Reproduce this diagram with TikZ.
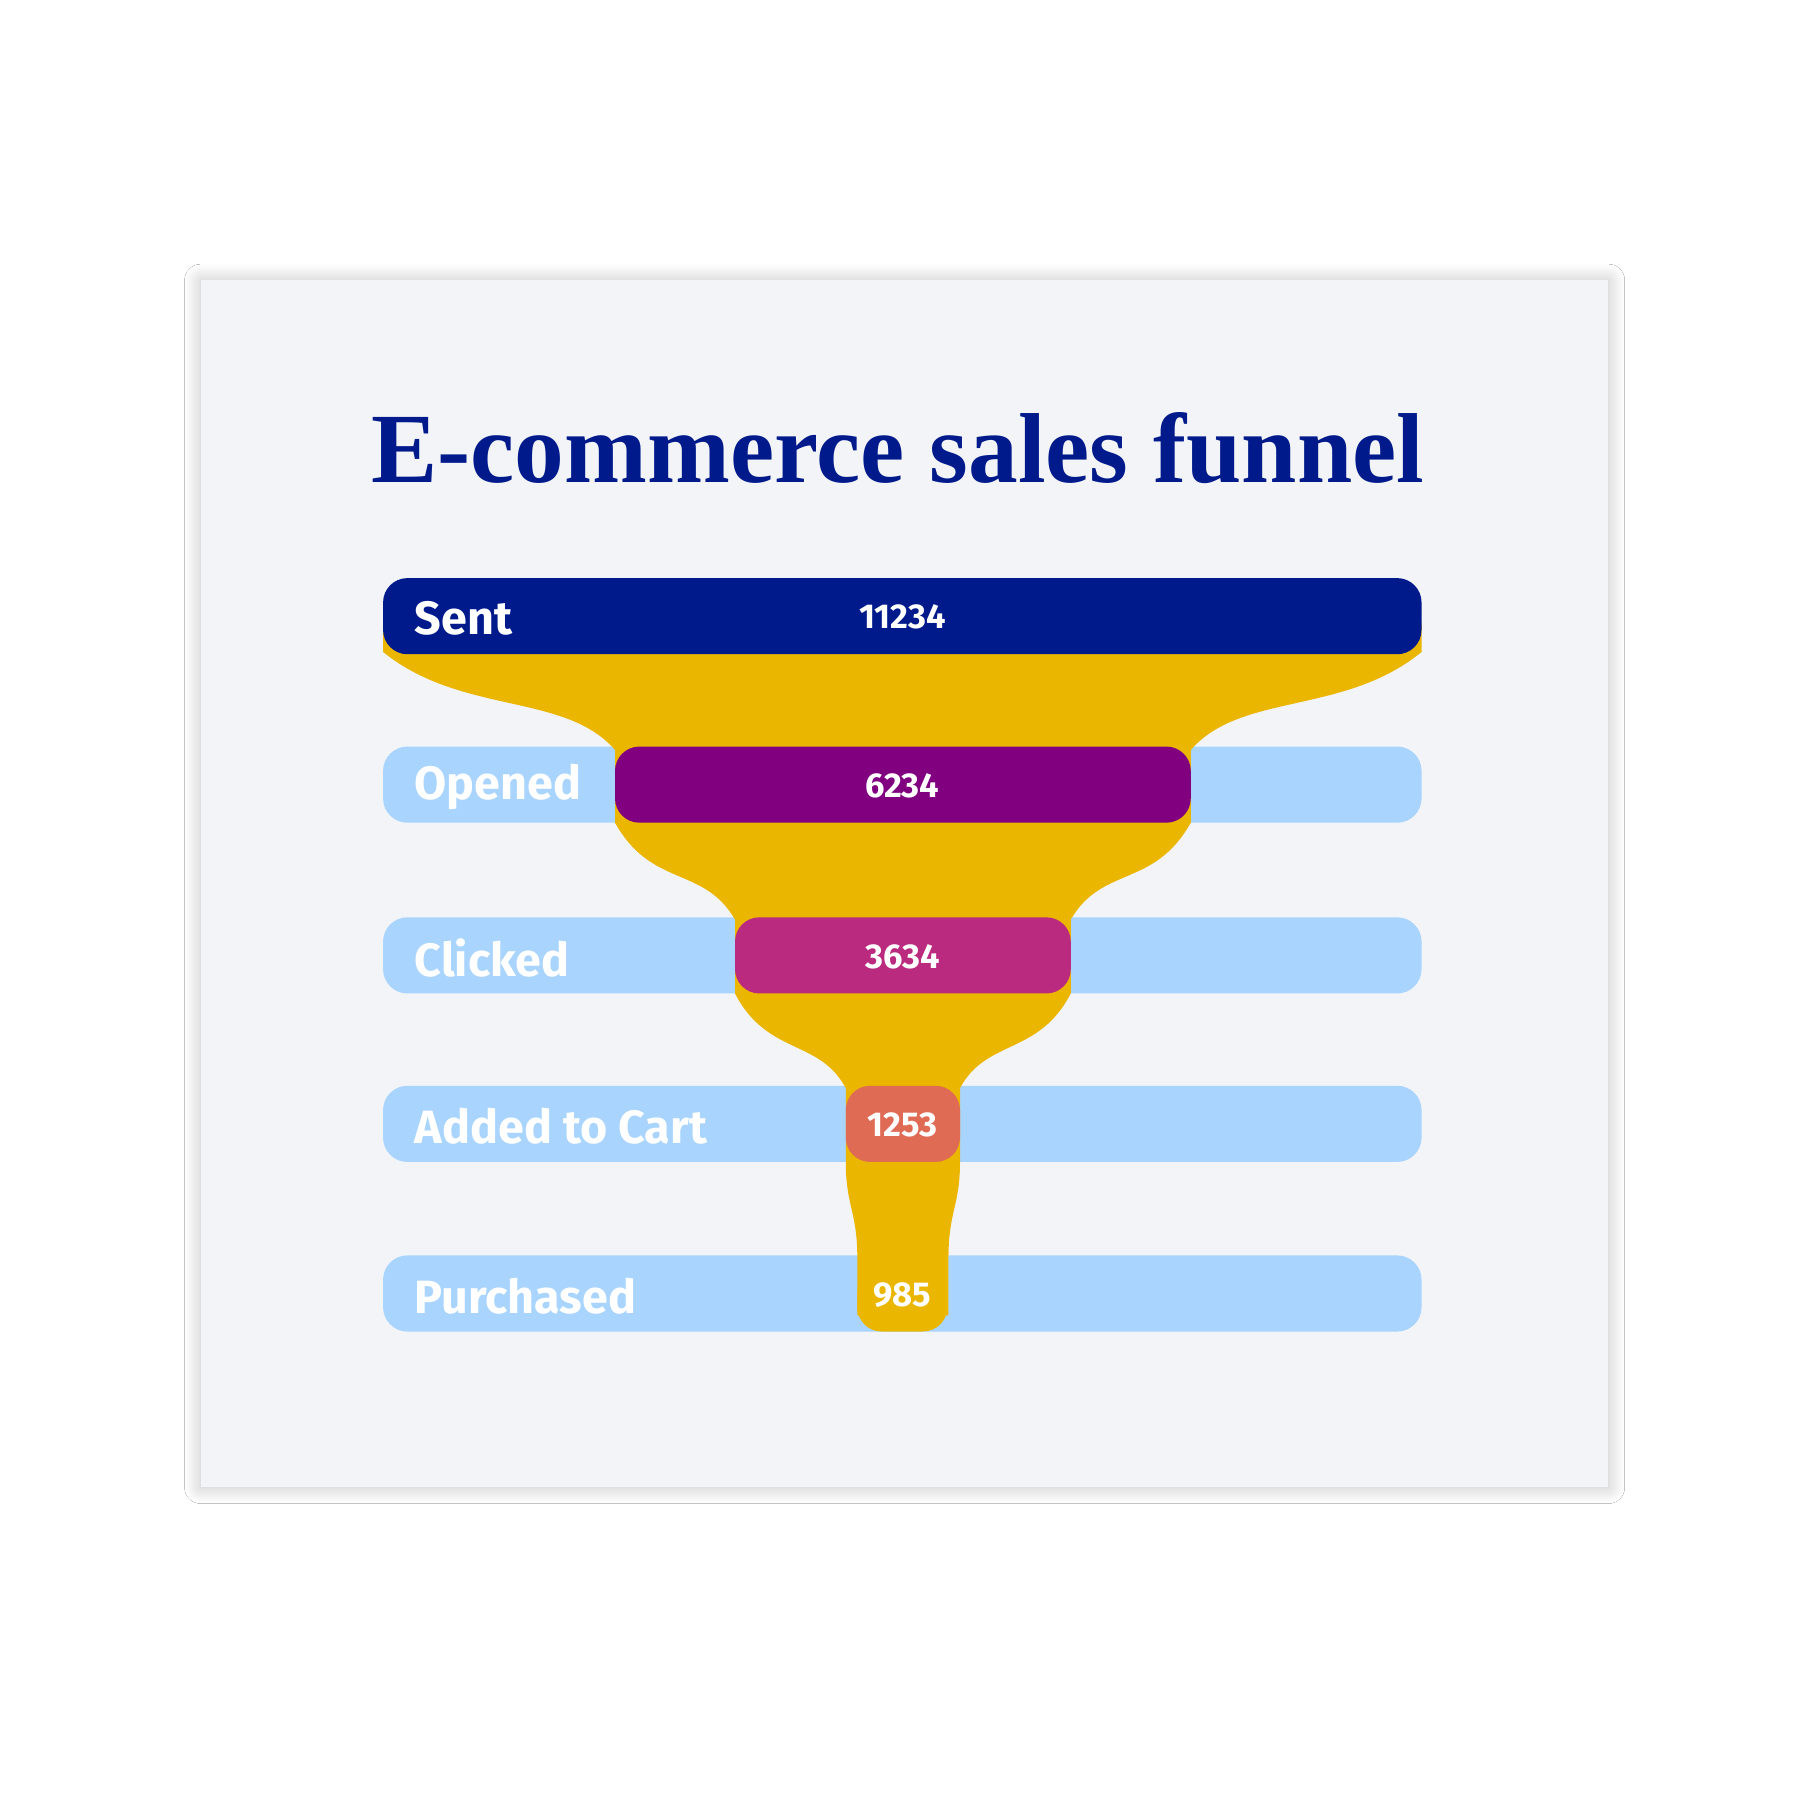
\documentclass[tikz,border=0pt]{standalone}
\usepackage{fontspec}
\setmainfont{Fira Sans}
\newfontfamily\titlefont{Liberation Serif}
\usetikzlibrary{shadows.blur}
\definecolor{cardbg}{HTML}{F2F4F8}
\definecolor{navy}{HTML}{001A8C}
\definecolor{lightbar}{HTML}{A8D4FE}
\definecolor{gold}{HTML}{EBB600}
\definecolor{purp}{HTML}{800080}
\definecolor{magen}{HTML}{BA2A7E}
\definecolor{coral}{HTML}{E06B55}
\tikzset{
  lbar/.style={fill=lightbar, rounded corners=6},
  ibar/.style={rounded corners=6},
  lbl/.style={anchor=west, text=white, font=\fontsize{11.5}{12}\selectfont\bfseries},
  num/.style={text=white, font=\fontsize{8.5}{10}\selectfont\bfseries},
}
\begin{document}
\begin{tikzpicture}[x=0.01cm,y=-0.01cm]
\useasboundingbox (0,0) rectangle (1560,1560);
\fill[white] (0,0) rectangle (1560,1560);
\fill[cardbg, blur shadow={shadow blur steps=8, shadow xshift=0pt, shadow yshift=0pt, shadow blur radius=4pt, shadow opacity=25}] (174,243) rectangle (1394,1289);
\node[text=navy, font=\titlefont\fontsize{24.5}{28}\selectfont\bfseries] (title) at (778,388) {E-commerce sales funnel};
% light bars
\foreach \n/\y in {opened/647, clicked/795, added/941, purchased/1088}
  \fill[lbar] (332,\y) rectangle (1232,\y+66);
% funnel
\fill[gold] (332,540)
  -- (332,565) .. controls (400,620) and (490,600) .. (533,650)
  -- (533,713) .. controls (565,770) and (610,750) .. (637,797)
  -- (637,861) .. controls (665,915) and (710,900) .. (733,943)
  -- (733,1007) .. controls (733,1045) and (743,1050) .. (743,1090)
  -- (743,1140) -- (822,1140) -- (822,1090)
  .. controls (822,1050) and (832,1045) .. (832,1007)
  -- (832,943) .. controls (855,900) and (900,915) .. (928,861)
  -- (928,797) .. controls (955,750) and (1000,770) .. (1032,713)
  -- (1032,650) .. controls (1075,600) and (1165,620) .. (1232,565)
  -- (1232,540) -- cycle;
% inner bars
\fill[navy, ibar] (332,501) rectangle (1232,567);
\fill[purp, ibar] (533,647) rectangle (1032,713);
\fill[magen, ibar] (637,795) rectangle (928,861);
\fill[coral, ibar] (733,941) rectangle (832,1007);
\fill[gold, ibar] (743,1100) rectangle (821,1154);
% labels
\node[lbl] (lsent) at (347,536) {Sent};
\node[lbl] (lopened) at (347,682) {Opened};
\node[lbl] (lclicked) at (347,830) {Clicked};
\node[lbl] (ladded) at (347,976) {Added to Cart};
\node[lbl] (lpurch) at (347,1123) {Purchased};
\node[num] (nsent) at (782,535) {11234};
\node[num] (nopened) at (782,681) {6234};
\node[num] (nclicked) at (782,829) {3634};
\node[num] (nadded) at (782,975) {1253};
\node[num] (npurch) at (782,1122) {985};
\end{tikzpicture}
\end{document}
